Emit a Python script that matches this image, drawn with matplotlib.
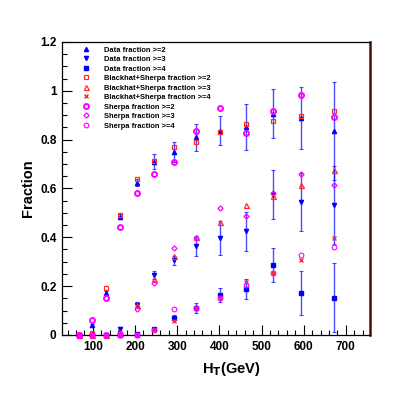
# Jet multiplicity fractions vs H_T: data vs Blackhat+Sherpa vs Sherpa
import matplotlib.pyplot as plt
from matplotlib.ticker import MultipleLocator, FormatStrFormatter

plt.rcParams['font.family'] = ['Liberation Sans', 'DejaVu Sans']
plt.rcParams['font.weight'] = 'bold'

# --- H_T bin centres (GeV) ---
ht = [68, 99, 131, 165, 204, 245, 293, 344, 402, 464, 527, 594, 672]

# --- Data fractions with stat. errors ---
data_ge2 = [0.0, 0.041, 0.173, 0.485, 0.624, 0.710, 0.749, 0.810, 0.837, 0.851, 0.906, 0.888, 0.834]
data_ge2_err = [0.0, 0.004, 0.008, 0.012, 0.015, 0.030, 0.040, 0.055, 0.060, 0.095, 0.100, 0.127, 0.200]
data_ge3 = [0.0, 0.0, 0.0, 0.024, 0.123, 0.246, 0.305, 0.365, 0.396, 0.424, 0.574, 0.544, 0.533]
data_ge3_err = [0.0, 0.0, 0.0, 0.008, 0.010, 0.015, 0.020, 0.040, 0.070, 0.080, 0.100, 0.120, 0.160]
data_ge4 = [0.0, 0.0, 0.0, 0.0, 0.004, 0.023, 0.071, 0.109, 0.164, 0.188, 0.287, 0.171, 0.153]
data_ge4_err = [0.0, 0.0, 0.0, 0.0, 0.003, 0.005, 0.010, 0.020, 0.030, 0.040, 0.070, 0.090, 0.140]

# --- Blackhat+Sherpa fractions ---
bh_ge2 = [0.0, 0.007, 0.194, 0.490, 0.639, 0.713, 0.768, 0.792, 0.833, 0.865, 0.878, 0.898, 0.919]
bh_ge3 = [0.0, 0.0, 0.0, 0.010, 0.123, 0.228, 0.324, 0.403, 0.462, 0.534, 0.567, 0.615, 0.676]
bh_ge4 = [0.0, 0.0, 0.0, 0.0, 0.0, 0.020, 0.057, 0.109, 0.153, 0.218, 0.253, 0.307, 0.399]

# --- Sherpa fractions ---
sh_ge2 = [0.0, 0.061, 0.153, 0.441, 0.581, 0.661, 0.709, 0.837, 0.929, 0.825, 0.919, 0.981, 0.891]
sh_ge3 = [0.0, 0.0, 0.0, 0.010, 0.105, 0.214, 0.355, 0.396, 0.519, 0.488, 0.583, 0.658, 0.612]
sh_ge4 = [0.0, 0.0, 0.0, 0.0, 0.0, 0.020, 0.105, 0.109, 0.150, 0.205, 0.253, 0.328, 0.362]

blue = '#0000ff'
red = '#ff2a2a'
mag = '#ff00ff'

fig = plt.figure(figsize=(4.11, 3.95), dpi=100)
ax = fig.add_axes([0.151, 0.152, 0.749, 0.742])

# error bars for the data (drawn separately so the legend only shows markers)
for y, e in [(data_ge2, data_ge2_err), (data_ge3, data_ge3_err), (data_ge4, data_ge4_err)]:
    ax.errorbar(ht, y, yerr=e, fmt='none', ecolor=blue, elinewidth=1.0,
                capsize=1.5, capthick=0.8, alpha=0.7, clip_on=False)

ms = dict(linestyle='none', clip_on=False)
ax.plot(ht, data_ge2, marker='^', color=blue, markersize=3.0, label='Data fraction >=2', **ms)
ax.plot(ht, data_ge3, marker='v', color=blue, markersize=3.0, label='Data fraction >=3', **ms)
ax.plot(ht, data_ge4, marker='s', color=blue, markersize=2.6, label='Data fraction >=4', **ms)
ax.plot(ht, bh_ge2, marker='s', color=red, mfc='none', markersize=3.4, mew=0.9,
        label='Blackhat+Sherpa fraction >=2', **ms)
ax.plot(ht, bh_ge3, marker='^', color=red, mfc='none', markersize=3.6, mew=0.9,
        label='Blackhat+Sherpa fraction >=3', **ms)
ax.plot(ht, bh_ge4, marker='x', color=red, markersize=3.0, mew=1.0,
        label='Blackhat+Sherpa fraction >=4', **ms)
ax.plot(ht, sh_ge2, marker='o', color=mag, mfc='none', markersize=3.6, mew=1.4,
        label='Sherpa fraction >=2', **ms)
ax.plot(ht, sh_ge3, marker='D', color=mag, mfc='none', markersize=2.6, mew=0.9,
        label='Sherpa fraction >=3', **ms)
ax.plot(ht, sh_ge4, marker='o', color=mag, mfc='none', markersize=3.4, mew=0.8,
        label='Sherpa fraction >=4', **ms)

# zero points show as filled magenta squares on the axis
zero_x = [h for h, v in zip(ht, sh_ge4) if v == 0.0]
ax.plot(zero_x, [0.0] * len(zero_x), marker='s', color=mag, markersize=3.2,
        linestyle='none', clip_on=False, zorder=5)

ax.set_xlim(27, 757)
ax.set_ylim(0, 1.2)
ax.xaxis.set_major_locator(MultipleLocator(100))
ax.xaxis.set_minor_locator(MultipleLocator(20))
ax.yaxis.set_major_locator(MultipleLocator(0.2))
ax.yaxis.set_minor_locator(MultipleLocator(0.05))
ax.yaxis.set_major_formatter(FormatStrFormatter('%g'))

ax.tick_params(which='both', direction='in', top=False, right=False,
               labelsize=8.5, width=0.8)
ax.tick_params(which='major', length=7, pad=4)
ax.tick_params(which='minor', length=3.5)
for lab in ax.get_xticklabels() + ax.get_yticklabels():
    lab.set_fontweight('bold')

for s in ax.spines.values():
    s.set_linewidth(0.9)
ax.spines['right'].set_color('#4a0d0d')
ax.spines['right'].set_linewidth(1.8)

ax.set_ylabel('Fraction', fontsize=10.5, fontweight='bold', labelpad=4)
ax.set_xlabel('H$_{\\mathbf{T}}$(GeV)', fontsize=10.5, fontweight='bold', labelpad=1)
ax.xaxis.set_label_coords(0.55, -0.085)

leg = ax.legend(loc='upper left', bbox_to_anchor=(0.05, 1.0), frameon=False,
                prop={'size': 5.4, 'weight': 'bold'}, labelspacing=0.3,
                handlelength=1.0, handletextpad=2.0, borderaxespad=0.2)

fig.savefig('out.png', dpi=100)
